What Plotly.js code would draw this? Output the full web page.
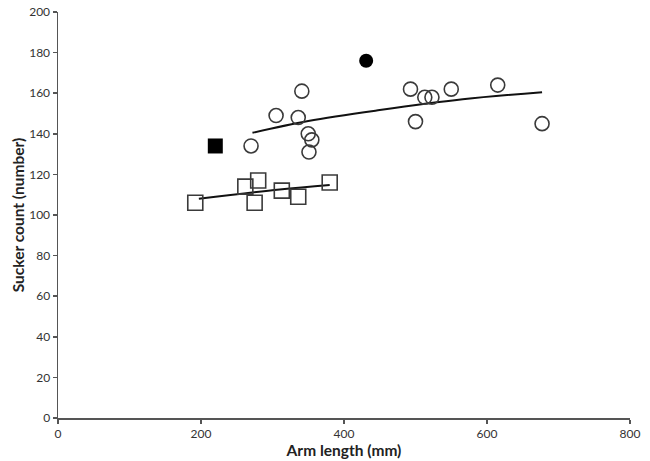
<!DOCTYPE html>
<html>
<head>
<meta charset="utf-8">
<script src="https://cdn.plot.ly/plotly-3.0.1.min.js"></script>
<style>html,body{margin:0;padding:0;background:#fff;}#chart{width:650px;height:461px;}</style>
</head>
<body>
<div id="chart"></div>
<script>
// Open circles (group A)
var circleX = [270, 305, 336, 341, 350, 355, 351, 493, 500, 513, 523, 550, 615, 677];
var circleY = [134, 149, 148, 161, 140, 137, 131, 162, 146, 158, 158, 162, 164, 145];
// Filled circle
var filledCircleX = [431];
var filledCircleY = [176];
// Open squares (group B)
var squareX = [192, 262, 280, 275, 313, 336, 380];
var squareY = [106, 114, 117, 106, 112, 109, 116];
// Filled square
var filledSquareX = [220];
var filledSquareY = [134];
// Fitted trend lines
var circleTrendX = [272, 350, 450, 566, 677];
var circleTrendY = [140.5, 146.3, 151.7, 157.0, 160.5];
var squareTrendX = [197, 310, 380];
var squareTrendY = [108.0, 112.6, 114.8];

var xTicks = [0, 200, 400, 600, 800];
var yTicks = [0, 20, 40, 60, 80, 100, 120, 140, 160, 180, 200];

var mk = {color: 'rgba(0,0,0,0)', line: {color: '#3a3a3a', width: 1.6}};
var traces = [
  {x: circleTrendX, y: circleTrendY, mode: 'lines', line: {color: '#111', width: 2, shape: 'spline'}, hoverinfo: 'skip'},
  {x: squareTrendX, y: squareTrendY, mode: 'lines', line: {color: '#111', width: 2, shape: 'spline'}, hoverinfo: 'skip'},
  {x: circleX, y: circleY, mode: 'markers', marker: Object.assign({symbol: 'circle', size: 14}, mk)},
  {x: squareX, y: squareY, mode: 'markers', marker: Object.assign({symbol: 'square', size: 15}, mk)},
  {x: filledCircleX, y: filledCircleY, mode: 'markers', marker: {symbol: 'circle', size: 14, color: '#000'}},
  {x: filledSquareX, y: filledSquareY, mode: 'markers', marker: {symbol: 'square', size: 15, color: '#000'}}
];

var fontFam = 'Lato, "Open Sans", sans-serif';
var titleFont = {family: fontFam, size: 15.5, color: '#222', weight: 'bold'};
var layout = {
  width: 650, height: 461,
  margin: {l: 58, r: 20, t: 12, b: 43},
  showlegend: false,
  paper_bgcolor: '#fff', plot_bgcolor: '#fff',
  font: {family: fontFam, color: '#333', size: 12},
  xaxis: {
    range: [0, 800], tickvals: xTicks, ticktext: xTicks.map(String),
    showgrid: false, zeroline: false, showline: true, linecolor: '#555', linewidth: 1.5,
    ticks: 'outside', ticklen: 4, tickcolor: '#555', tickwidth: 1.5,
    tickfont: {family: fontFam, size: 12, color: '#333'},
    title: {text: 'Arm length (mm)', font: titleFont, standoff: 4}
  },
  yaxis: {
    range: [0, 200], tickvals: yTicks, ticktext: yTicks.map(String),
    showgrid: false, zeroline: false, showline: true, linecolor: '#555', linewidth: 1.5,
    ticks: 'outside', ticklen: 4, tickcolor: '#555', tickwidth: 1.5,
    tickfont: {family: fontFam, size: 12, color: '#333'},
    title: {text: 'Sucker count (number)', font: titleFont, standoff: 1}
  }
};
Plotly.newPlot('chart', traces, layout, {displayModeBar: false, staticPlot: true});
</script>
</body>
</html>
